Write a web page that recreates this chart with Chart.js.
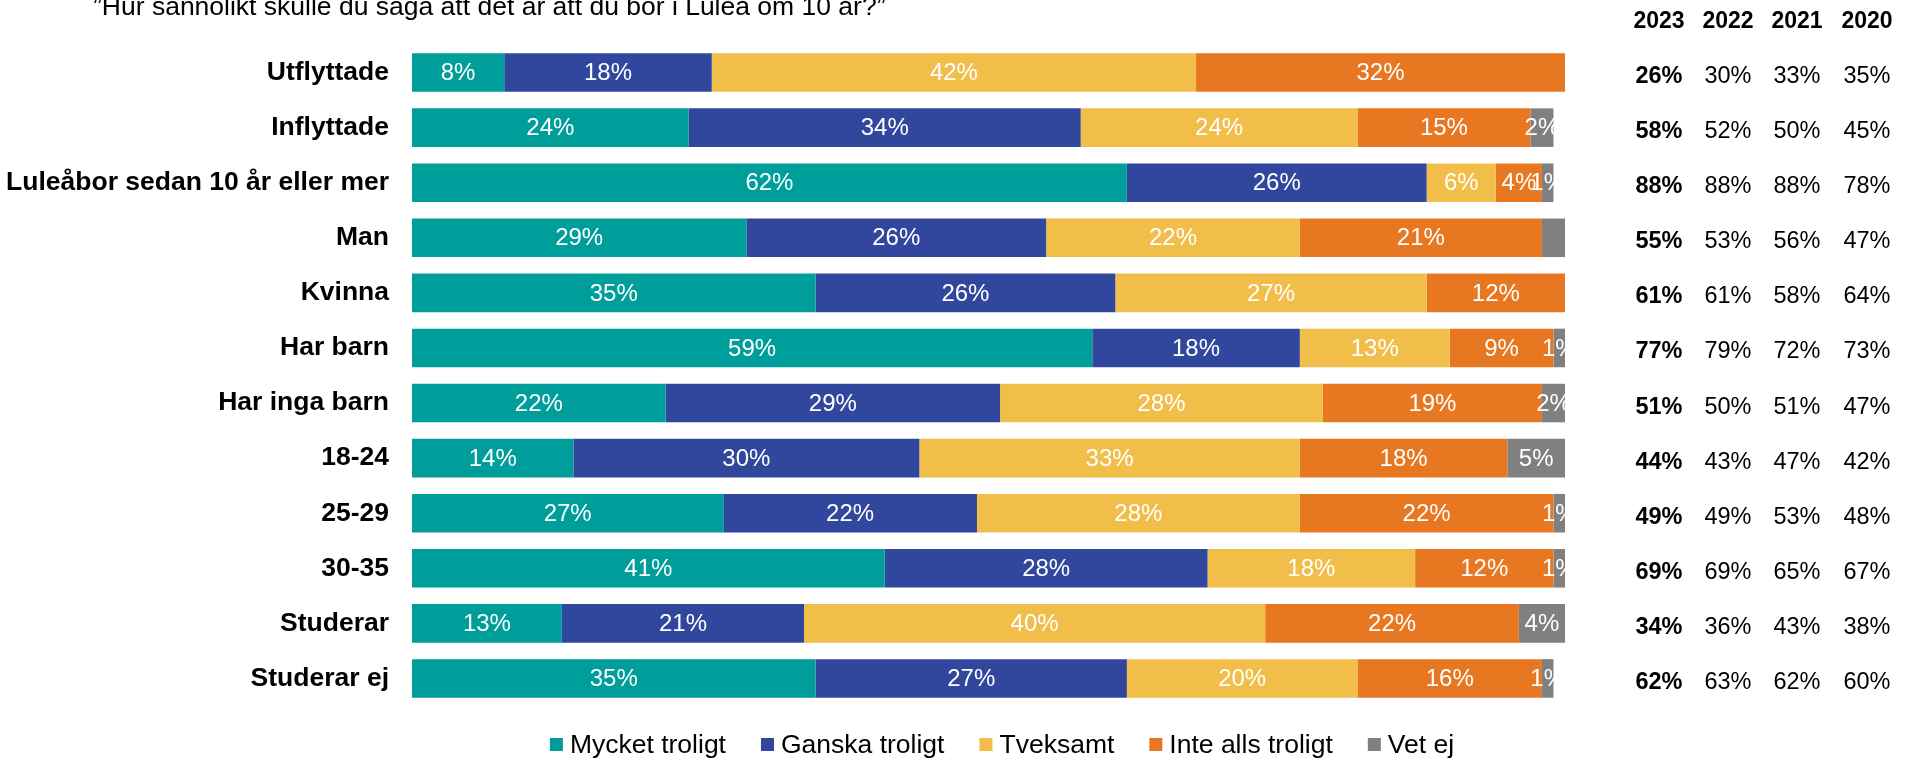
<!DOCTYPE html>
<html lang="sv">
<head>
<meta charset="UTF-8" />
<title>Boende i Luleå om 10 år</title>
<script src="https://cdn.jsdelivr.net/npm/chart.js"></script>
<style>
  html, body { margin: 0; padding: 0; background: #fff; }
</style>
</head>
<body>
<canvas id="chart" width="1917" height="758"></canvas>
<script>
const grupper = ["Utflyttade", "Inflyttade", "Luleåbor sedan 10 år eller mer", "Man", "Kvinna", "Har barn",
  "Har inga barn", "18-24", "25-29", "30-35", "Studerar", "Studerar ej"];
const mycketTroligt = [8, 24, 62, 29, 35, 59, 22, 14, 27, 41, 13, 35];
const ganskaTroligt = [18, 34, 26, 26, 26, 18, 29, 30, 22, 28, 21, 27];
const tveksamt = [42, 24, 6, 22, 27, 13, 28, 33, 28, 18, 40, 20];
const inteAllsTroligt = [32, 15, 4, 21, 12, 9, 19, 18, 22, 12, 22, 16];
const vetEj = [0.2, 2, 1, 2, 0.2, 1, 2, 5, 1, 1, 4, 1];
// [dataset, rad] - etiketter som saknas i originalet
const doldaEtiketter = [[4, 3]];

const ar = ["2023", "2022", "2021", "2020"];
const andel2023 = [26, 58, 88, 55, 61, 77, 51, 44, 49, 69, 34, 62];
const andel2022 = [30, 52, 88, 53, 61, 79, 50, 43, 49, 69, 36, 63];
const andel2021 = [33, 50, 88, 56, 58, 72, 51, 47, 53, 65, 43, 62];
const andel2020 = [35, 45, 78, 47, 64, 73, 47, 42, 48, 67, 38, 60];

const fraga = "”Hur sannolikt skulle du säga att det är att du bor i Luleå om 10 år?”";
const font = "'Liberation Sans', Arial, sans-serif";

// etiketter i staplarna, tabell till höger, rubrik och förklaring
const extraPlugin = {
  id: "extra",
  afterDatasetsDraw(chart) {
    const ctx = chart.ctx;
    ctx.save();
    ctx.font = "24px " + font;
    ctx.fillStyle = "#fff";
    ctx.textAlign = "center";
    ctx.textBaseline = "middle";
    chart.data.datasets.forEach((ds, di) => {
      chart.getDatasetMeta(di).data.forEach((bar, i) => {
        const v = ds.data[i];
        if (v < 0.5 || doldaEtiketter.some(([d, r]) => d === di && r === i)) return;
        const p = bar.getProps(["x", "y", "base"], true);
        ctx.fillText(Math.round(v) + "%", (p.x + p.base) / 2, p.y + 1);
      });
    });
    ctx.restore();
  },
  afterDraw(chart) {
    const ctx = chart.ctx;
    const y = chart.scales.y;
    ctx.save();
    ctx.fillStyle = "#000";

    // rubrik (avskuren upptill som i originalet)
    ctx.font = "26.5px " + font;
    ctx.textAlign = "left";
    ctx.textBaseline = "alphabetic";
    ctx.fillText(fraga, 93, 15);

    // tabell
    const kolumner = [andel2023, andel2022, andel2021, andel2020];
    const kolX = [1659, 1728, 1797, 1867];
    ctx.textAlign = "center";
    ctx.textBaseline = "middle";
    ctx.font = "bold 23px " + font;
    ar.forEach((a, k) => ctx.fillText(a, kolX[k], 22));
    kolumner.forEach((kol, k) => {
      ctx.font = (k === 0 ? "bold " : "") + "23.5px " + font;
      kol.forEach((v, i) => ctx.fillText(v + "%", kolX[k], y.getPixelForValue(i) + 4));
    });

    // förklaring
    ctx.font = "26.5px " + font;
    ctx.textAlign = "left";
    ctx.textBaseline = "alphabetic";
    const ds = chart.data.datasets;
    const bredder = ds.map((d) => ctx.measureText(d.label).width);
    const total = bredder.reduce((s, b) => s + 13 + 7 + b, 0) + 35 * (ds.length - 1);
    let x = 1002 - total / 2;
    ds.forEach((d, i) => {
      ctx.fillStyle = d.backgroundColor;
      ctx.fillRect(x, 738, 13, 13);
      ctx.fillStyle = "#000";
      ctx.fillText(d.label, x + 20, 753);
      x += 20 + bredder[i] + 35;
    });
    ctx.restore();
  }
};

const serie = (label, data, color) => ({
  label: label,
  data: data,
  backgroundColor: color,
  barPercentage: 0.7,
  categoryPercentage: 1
});

new Chart(document.getElementById("chart"), {
  type: "bar",
  data: {
    labels: grupper,
    datasets: [
      serie("Mycket troligt", mycketTroligt, "#009E9A"),
      serie("Ganska troligt", ganskaTroligt, "#31479D"),
      serie("Tveksamt", tveksamt, "#F1BE4A"),
      serie("Inte alls troligt", inteAllsTroligt, "#E87722"),
      serie("Vet ej", vetEj, "#808080")
    ]
  },
  options: {
    indexAxis: "y",
    responsive: false,
    animation: false,
    layout: { padding: { top: 45, bottom: 52, left: 0, right: 352 } },
    plugins: {
      legend: { display: false },
      tooltip: { enabled: false }
    },
    scales: {
      x: { stacked: true, display: false, min: 0, max: 100 },
      y: {
        stacked: true,
        grid: { display: false, drawTicks: false },
        border: { display: false },
        ticks: {
          padding: 23,
          color: "#000",
          font: { family: font, size: 26.5, weight: "bold" }
        },
        afterFit(scale) { scale.width = 412; }
      }
    }
  },
  plugins: [extraPlugin]
});
</script>
</body>
</html>
